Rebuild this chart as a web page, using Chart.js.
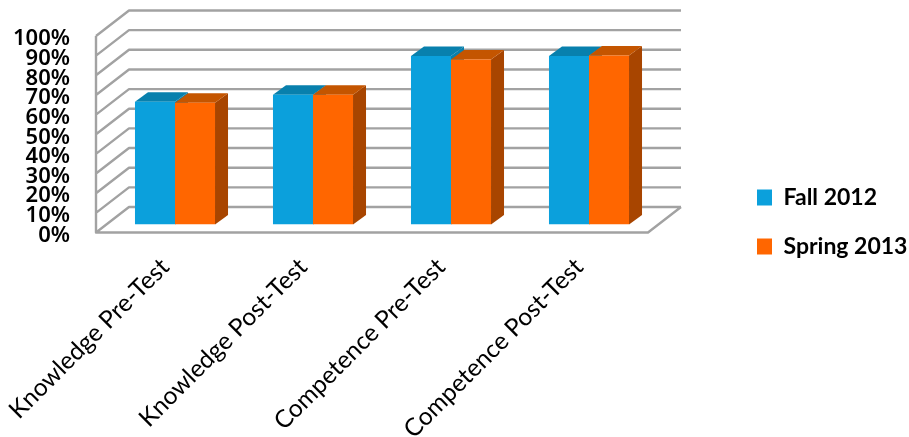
<!DOCTYPE html>
<html>
<head>
<meta charset="utf-8">
<title>Fall 2012 / Spring 2013</title>
<script src="https://cdn.jsdelivr.net/npm/chart.js@4/dist/chart.umd.min.js"></script>
<style>
  html, body { margin: 0; padding: 0; background: #fff; }
  #wrap { width: 909px; height: 437px; }
</style>
</head>
<body>
<div id="wrap"><canvas id="grafico" width="909" height="437"></canvas></div>
<script>
// Data
const categorias = ['Knowledge Pre-Test', 'Knowledge Post-Test', 'Competence Pre-Test', 'Competence Post-Test'];
const fall2012 = [62.5, 66, 85.7, 85.7];
const spring2013 = [62, 66, 84, 86];
const marcasY = [0, 10, 20, 30, 40, 50, 60, 70, 80, 90, 100];

// Depth of the walls and of the bars, in pixels
const fundo = { dx: 33, dy: -25.5 };
const recuoBarra = { dx: 10, dy: -8 };
const lateralBarra = { dx: 13, dy: -9.5 };
const coresTopo = ['#0880ad', '#c45500'];
const coresLado = ['#0880ad', '#a84500'];

function poligono(ctx, pontos, cor) {
    ctx.fillStyle = cor;
    ctx.beginPath();
    pontos.forEach((p, i) => i ? ctx.lineTo(p[0], p[1]) : ctx.moveTo(p[0], p[1]));
    ctx.closePath();
    ctx.fill();
}

// Back wall, left wall and floor, taken from the real y scale
const paredes3d = {
    id: 'paredes3d',
    beforeDatasetsDraw(chart) {
        const { ctx, chartArea: a, scales: { y } } = chart;
        ctx.save();
        ctx.strokeStyle = '#a2a2a2';
        ctx.lineWidth = 2.4;
        ctx.lineJoin = 'round';
        ctx.beginPath();
        marcasY.forEach(v => {
            const py = y.getPixelForValue(v);
            ctx.moveTo(a.left, py);
            ctx.lineTo(a.left + fundo.dx, py + fundo.dy);
            ctx.lineTo(a.right + fundo.dx, py + fundo.dy);
        });
        // left edge and front/right edges of the floor
        ctx.moveTo(a.left, y.getPixelForValue(100));
        ctx.lineTo(a.left, y.getPixelForValue(0));
        ctx.lineTo(a.right, y.getPixelForValue(0));
        ctx.lineTo(a.right + fundo.dx, y.getPixelForValue(0) + fundo.dy);
        ctx.stroke();
        ctx.restore();
    }
};

// Top and side faces of the bars; the library draws the front faces on top
const barras3d = {
    id: 'barras3d',
    beforeDatasetsDraw(chart) {
        const { ctx } = chart;
        const d = lateralBarra;
        ctx.save();
        ctx.translate(recuoBarra.dx, recuoBarra.dy);
        categorias.forEach((c, i) => {
            chart.data.datasets.forEach((ds, k) => {
                const b = chart.getDatasetMeta(k).data[i];
                const esq = b.x - b.width / 2, dir = b.x + b.width / 2;
                poligono(ctx, [[dir, b.y], [dir + d.dx, b.y + d.dy], [dir + d.dx, b.base + d.dy], [dir, b.base]], coresLado[k]);
                poligono(ctx, [[esq, b.y], [esq + d.dx, b.y + d.dy], [dir + d.dx, b.y + d.dy], [dir, b.y]], coresTopo[k]);
            });
        });
    },
    afterDatasetsDraw(chart) {
        chart.ctx.restore();
    }
};

// Places the legend in the free space to the right of the plot
const legendaLateral = {
    id: 'legendaLateral',
    afterLayout(chart) {
        const l = chart.legend;
        l.left = 731; l.right = 909; l.width = 178;
        l.top = 160; l.bottom = 300; l.height = 140;
    },
    // y tick labels sit a little under their gridlines
    beforeDraw(chart) {
        chart.scales.y.getLabelItems().forEach(item => { item.options.translation[1] += 3; });
    }
};

window.onload = function () {
    new Chart(document.getElementById('grafico').getContext('2d'), {
        type: 'bar',
        data: {
            labels: categorias,
            datasets: [
                { label: 'Fall 2012', data: fall2012, backgroundColor: '#0ba0dc', borderWidth: 0 },
                { label: 'Spring 2013', data: spring2013, backgroundColor: '#ff6600', borderWidth: 0 }
            ]
        },
        options: {
            responsive: false,
            animation: false,
            layout: { padding: { top: 36, right: 261, bottom: 0, left: 0 } },
            datasets: { bar: { categoryPercentage: 0.58, barPercentage: 1 } },
            plugins: {
                tooltip: { enabled: false },
                legend: {
                    position: 'chartArea',
                    align: 'start',
                    labels: {
                        boxWidth: 15, boxHeight: 16, padding: 26, color: '#000',
                        font: { family: 'Lato', size: 23, weight: 'bold' }
                    }
                }
            },
            scales: {
                x: {
                    grid: { display: false, drawTicks: false },
                    border: { display: false },
                    ticks: {
                        autoSkip: false, maxRotation: 45, minRotation: 45, color: '#000', padding: 20, labelOffset: 0,
                        font: { family: 'Lato', size: 24.5, weight: 'normal' }
                    },
                    afterFit(s) { s.height = 204.5; s.paddingLeft = 0; s.paddingRight = 0; }
                },
                y: {
                    min: 0, max: 100,
                    grid: { display: false, drawTicks: false },
                    border: { display: false },
                    ticks: {
                        stepSize: 10, autoSkip: false, color: '#000', padding: 26,
                        font: { family: 'Noto Sans', size: 22, weight: '600' },
                        callback: v => v + '%'
                    },
                    afterFit(s) { s.width = 96; s.paddingTop = 0; s.paddingBottom = 0; }
                }
            }
        },
        plugins: [paredes3d, barras3d, legendaLateral]
    });
};
</script>
</body>
</html>
